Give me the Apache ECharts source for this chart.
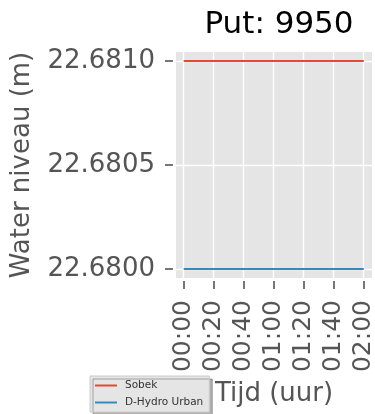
<!DOCTYPE html>
<html>
<head>
<meta charset="utf-8">
<script src="https://cdn.jsdelivr.net/npm/echarts@6/dist/echarts.min.js"></script>
<style>html,body{margin:0;padding:0;background:#fff;}#c{width:375px;height:414px;}</style>
</head>
<body>
<div id="c"></div>
<script>
// Time in minutes since start
var times = [0, 20, 40, 60, 80, 100, 120];
var sobek = [22.681, 22.681, 22.681, 22.681, 22.681, 22.681, 22.681];
var dhydro = [22.680, 22.680, 22.680, 22.680, 22.680, 22.680, 22.680];
var xTicks = [0, 20, 40, 60, 80, 100, 120];
var xTickLabels = ['00:00', '00:20', '00:40', '01:00', '01:20', '01:40', '02:00'];
var yTicks = [22.6800, 22.6805, 22.6810];
var seriesNames = ['Sobek', 'D-Hydro Urban'];
var titleText = 'Put: 9950';

var font = 'DejaVu Sans';
var chart = echarts.init(document.getElementById('c'), null, {renderer: 'canvas'});
function pairs(xs, ys) { return xs.map(function (x, i) { return [x, ys[i]]; }); }

chart.setOption({
  animation: false,
  title: {
    text: titleText, left: 274, top: 4, textAlign: 'center',
    textStyle: {fontFamily: font, fontSize: 31, fontWeight: 'normal', color: '#000'}
  },
  grid: {
    left: 176, top: 52, width: 196, height: 226, outerBoundsMode: 'none',
    show: true, backgroundColor: '#E5E5E5', borderWidth: 0
  },
  legend: {
    data: seriesNames, orient: 'vertical', left: 90, top: 376,
    icon: 'rect', itemWidth: 22, itemHeight: 2, itemGap: 6,
    padding: [4, 6, 4, 5],
    backgroundColor: '#E5E5E5', borderColor: '#cccccc', borderWidth: 1, borderRadius: 0,
    shadowColor: 'rgba(0,0,0,0.3)', shadowOffsetX: 3, shadowOffsetY: 3, shadowBlur: 0,
    textStyle: {fontFamily: font, fontSize: 10.5, color: '#333', padding: [0, 0, 0, 3]}
  },
  xAxis: {
    type: 'value', min: -5.13, max: 125.5, offset: 3,
    name: 'Tijd (uur)', nameLocation: 'middle', nameGap: 100,
    nameTextStyle: {fontFamily: font, fontSize: 26, color: '#555'},
    axisLine: {show: false, onZero: false},
    axisTick: {show: true, length: 8, customValues: xTicks, lineStyle: {color: '#555', width: 1.6}},
    axisLabel: {
      customValues: xTicks, rotate: 90, margin: 19, showMinLabel: true, showMaxLabel: true,
      fontFamily: font, fontSize: 25, color: '#555',
      formatter: function (v) { var i = xTicks.indexOf(v); return i >= 0 ? xTickLabels[i] : ''; }
    },
    splitLine: {show: true, lineStyle: {color: '#fff', width: 1.4}}
  },
  yAxis: {
    type: 'value', min: 22.6799567, max: 22.6810433, offset: 3,
    name: 'Water niveau (m)', nameLocation: 'middle', nameGap: 138,
    nameTextStyle: {fontFamily: font, fontSize: 26, color: '#555'},
    axisLine: {show: false, onZero: false},
    axisTick: {show: true, length: 8, customValues: yTicks, lineStyle: {color: '#555', width: 1.6}},
    axisLabel: {
      customValues: yTicks, margin: 18, showMinLabel: true, showMaxLabel: true,
      fontFamily: font, fontSize: 26, color: '#555',
      formatter: function (v) { return v.toFixed(4); }
    },
    splitLine: {show: true, lineStyle: {color: '#fff', width: 1.4}}
  },
  series: [
    {name: seriesNames[0], type: 'line', data: pairs(times, sobek), showSymbol: false,
     lineStyle: {color: '#E24A33', width: 1.8}, itemStyle: {color: '#E24A33'}},
    {name: seriesNames[1], type: 'line', data: pairs(times, dhydro), showSymbol: false,
     lineStyle: {color: '#348ABD', width: 1.8}, itemStyle: {color: '#348ABD'}}
  ]
});
</script>
</body>
</html>
